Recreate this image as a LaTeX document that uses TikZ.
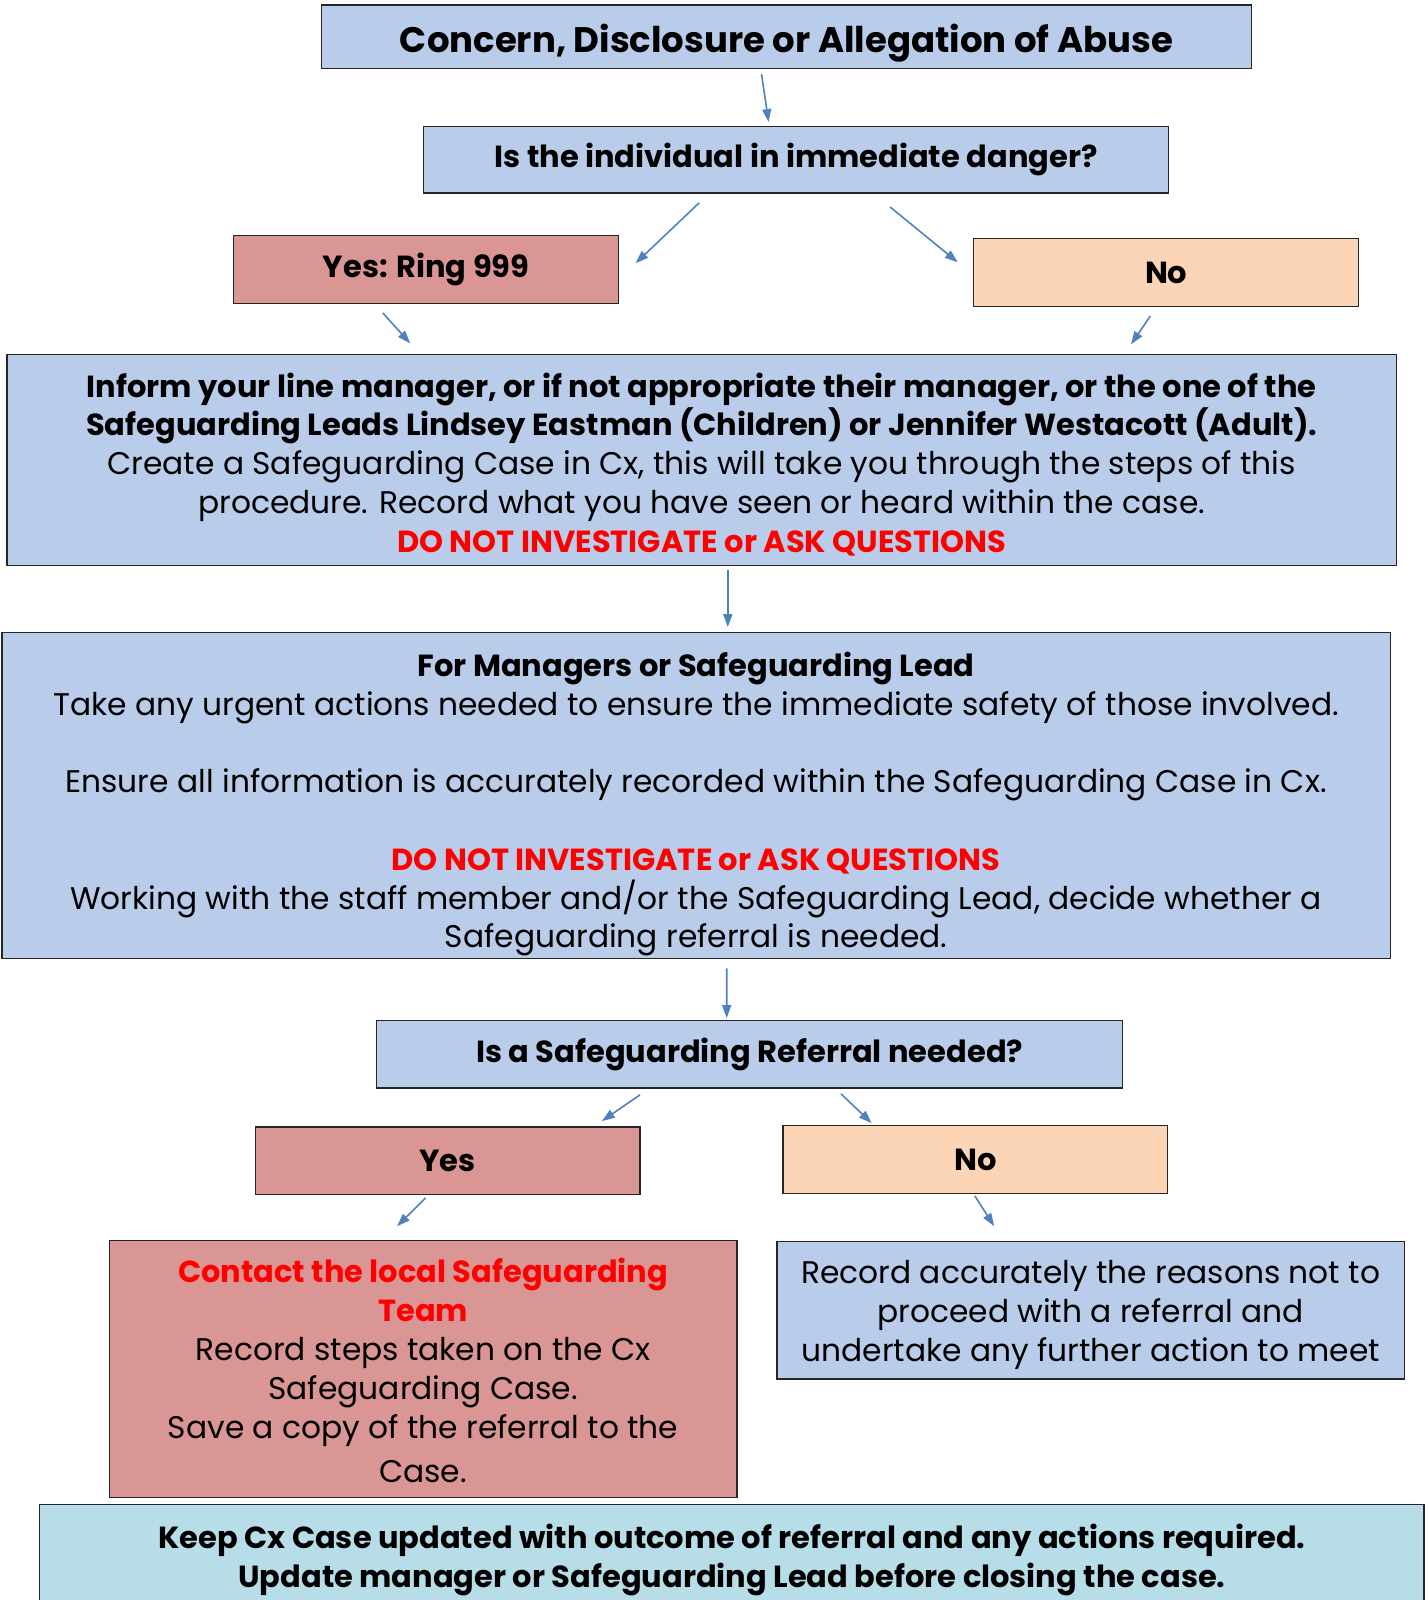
\documentclass[tikz,border=0pt]{standalone}
\usepackage{fontspec}
\setmainfont{Poppins}
\usetikzlibrary{arrows.meta,calc}
\definecolor{boxblue}{RGB}{185,205,235}
\definecolor{boxred}{RGB}{217,150,148}
\definecolor{boxpeach}{RGB}{251,213,181}
\definecolor{boxteal}{RGB}{183,221,232}
\definecolor{arrowblue}{RGB}{79,129,189}
\definecolor{warnred}{RGB}{255,0,0}
\newcommand{\hd}[1]{{\fontsize{30.5pt}{38.8pt}\selectfont\bfseries #1}}
\newcommand{\warn}[1]{{\fontsize{30.5pt}{38.8pt}\selectfont\bfseries\color{warnred}#1}}
\begin{document}
\begin{tikzpicture}[x=1pt, y=-1pt,
    txt/.style={align=center, inner sep=0pt, font=\fontsize{31.3pt}{38.8pt}\selectfont},
    box/.style={draw=black!85, line width=1.3pt, inner sep=0pt, align=center,
        font=\fontsize{30.5pt}{38.8pt}\selectfont\bfseries},
    bluebox/.style={box, fill=boxblue},
    redbox/.style={box, fill=boxred},
    peachbox/.style={box, fill=boxpeach},
    tealbox/.style={box, fill=boxteal},
    arr/.style={arrowblue, line width=1.6pt, -{Triangle[length=13pt,width=9pt]}}]
    \clip (0,0) rectangle (1427,1600);

    % Boxes
    \node[bluebox, minimum width=930pt, minimum height=63.3pt,
        label={[txt, yshift=-6pt, font=\fontsize{35.5pt}{40pt}\selectfont\bfseries]center:Concern, Disclosure or Allegation of Abuse}] (title) at (786.5,36.7) {};
    \node[bluebox, minimum width=745pt, minimum height=66.3pt] (danger) at (796.1,159.8) {Is the individual in immediate danger?};
    \node[redbox, minimum width=384.8pt, minimum height=67.4pt] (ring) at (426.1,269.5) {Yes: Ring 999};
    \node[peachbox, minimum width=384.8pt, minimum height=67.4pt] (nodanger) at (1166.2,272.5) {No};

    \node[bluebox, minimum width=1389.2pt, minimum height=211.3pt,
        label={[txt, yshift=-4.5pt]center:{%
        \hd{Inform your line manager, or if not appropriate their manager, or the one of the}\\
        \hd{Safeguarding Leads Lindsey Eastman (Children) or Jennifer Westacott (Adult).}\\
        Create a Safeguarding Case in Cx, this will take you through the steps of this\\
        procedure. Record what you have seen or heard within the case.\\
        \warn{DO NOT INVESTIGATE or ASK QUESTIONS}}}] (inform) at (701.7,459.9) {};

    \node[bluebox, minimum width=1388.2pt, minimum height=325.6pt,
        label={[txt, yshift=-8.5pt]center:{%
        \hd{For Managers or Safeguarding Lead}\\
        Take any urgent actions needed to ensure the immediate safety of those involved.\\[38.8pt]
        Ensure all information is accurately recorded within the Safeguarding Case in Cx.\\[38.8pt]
        \warn{DO NOT INVESTIGATE or ASK QUESTIONS}\\
        Working with the staff member and/or the Safeguarding Lead, decide whether a\\
        Safeguarding referral is needed.}}] (managers) at (696.1,795.6) {};

    \node[bluebox, minimum width=746.2pt, minimum height=67.4pt] (referral) at (749.7,1054.4) {Is a Safeguarding Referral needed?};
    \node[redbox, minimum width=384.8pt, minimum height=67.3pt] (yes) at (447.6,1160.5) {Yes};
    \node[peachbox, minimum width=384.8pt, minimum height=67.4pt] (no) at (975.3,1159.5) {No};

    \node[redbox, minimum width=627.8pt, minimum height=257.2pt,
        label={[txt, yshift=-2pt]center:{%
        \warn{Contact the local Safeguarding}\\
        \warn{Team}\\
        Record steps taken on the Cx\\
        Safeguarding Case.\\
        Save a copy of the referral to the\\[6pt]
        Case.}}] (contact) at (423.1,1368.8) {};
    \node[bluebox, minimum width=627.7pt, minimum height=137.8pt,
        label={[txt, yshift=-5pt]center:{%
        Record accurately the reasons not to\\
        proceed with a referral and\\
        undertake any further action to meet}}] (reasons) at (1090.7,1310.1) {};

    \node[tealbox, minimum width=1384.2pt, minimum height=104.2pt,
        label={[txt, yshift=-3pt]center:{%
        \hd{Keep Cx Case updated with outcome of referral and any actions required.}\\
        \hd{Update manager or Safeguarding Lead before closing the case.}}}] (update) at (731.9,1556.6) {};

    % Arrows
    \draw[arr] ($(title.south)+(-25,5)$) -- ($(danger.north)+(-27.5,-4)$);
    \draw[arr] ($(danger.south)+(-96.9,9.2)$) -- ($(ring.east)+(16.4,-6.2)$);
    \draw[arr] ($(danger.south)+(93.9,13.3)$) -- ($(nodanger.west)+(-15.4,-10.2)$);
    \draw[arr] ($(ring.south)+(-43.3,9.1)$) -- ($(inform.north)+(-291.4,-10.2)$);
    \draw[arr] ($(nodanger.south)+(-15.9,9.2)$) -- ($(inform.north)+(429.3,-9.2)$);
    \draw[arr] ($(inform.south)+(26.1,4.1)$) -- ($(managers.north)+(31.7,-5.1)$);
    \draw[arr] ($(managers.south)+(30.6,9.2)$) -- ($(referral.north)+(-23,-2)$);
    \draw[arr] ($(referral.south)+(-109.7,6.1)$) -- ($(yes.north east)+(-38.8,-5.1)$);
    \draw[arr] ($(referral.south)+(91.3,5.1)$) -- ($(no.north)+(-103.6,-2)$);
    \draw[arr] ($(yes.south)+(-22,3.1)$) -- ($(contact.north)+(-26.1,-13.3)$);
    \draw[arr] ($(no.south)+(-0.5,2)$) -- ($(reasons.north)+(-96.5,-14.3)$);
\end{tikzpicture}
\end{document}
